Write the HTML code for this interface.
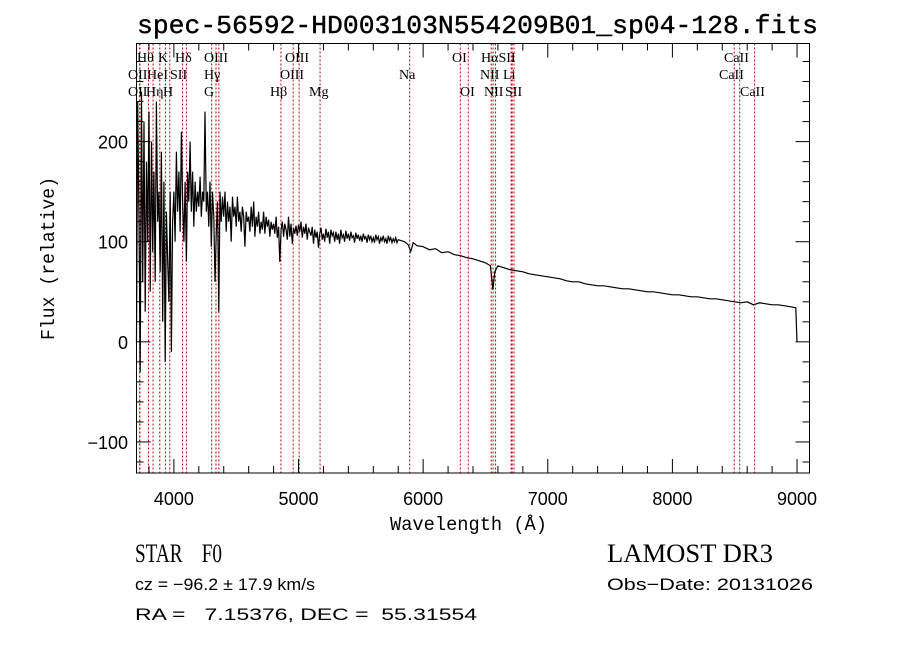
<!DOCTYPE html>
<html><head><meta charset="utf-8"><style>
html,body{margin:0;padding:0;background:#fff;}
svg{display:block;}
text{white-space:pre;}
</style></head><body>
<svg id="chart" width="900" height="649" viewBox="0 0 900 649" xmlns="http://www.w3.org/2000/svg" xml:space="preserve">
<rect width="900" height="649" fill="#fff"/>
<text x="137" y="33" font-family="Liberation Mono, monospace" font-size="26" stroke="#000" stroke-width="0.4" textLength="681" lengthAdjust="spacingAndGlyphs">spec-56592-HD003103N554209B01_sp04-128.fits</text>
<g id="lines"></g>
<g id="labels" font-family="Liberation Serif, serif" font-size="14"></g>
<path id="spec" fill="none" stroke="#000" stroke-width="1.2"/>
<rect x="136.5" y="43.5" width="673" height="429.5" fill="none" stroke="#000" stroke-width="1"/>
<g id="ticks" stroke="#000" stroke-width="1"></g>
<g id="ticklabels" font-family="Liberation Sans, sans-serif" font-size="18"></g>
<text x="390" y="530" font-family="Liberation Mono, monospace" font-size="19" textLength="157" lengthAdjust="spacingAndGlyphs">Wavelength (Å)</text>
<text transform="translate(54,340) rotate(-90)" font-family="Liberation Mono, monospace" font-size="19" textLength="163" lengthAdjust="spacingAndGlyphs">Flux (relative)</text>
<text x="135" y="562" font-family="Liberation Serif, serif" font-size="26" textLength="87" lengthAdjust="spacingAndGlyphs">STAR    F0</text>
<text x="607" y="562" font-family="Liberation Serif, serif" font-size="26" textLength="166" lengthAdjust="spacingAndGlyphs">LAMOST DR3</text>
<text x="135" y="590" font-family="Liberation Sans, sans-serif" font-size="17" textLength="180" lengthAdjust="spacingAndGlyphs">cz = −96.2 ± 17.9 km/s</text>
<text x="607" y="590" font-family="Liberation Sans, sans-serif" font-size="17" textLength="206" lengthAdjust="spacingAndGlyphs">Obs−Date: 20131026</text>
<text x="135" y="620" font-family="Liberation Sans, sans-serif" font-size="17" textLength="342" lengthAdjust="spacingAndGlyphs">RA =   7.15376, DEC =  55.31554</text>
</svg>
<script>
const blueStart = 3700;
const blueStep = 10;
const fluxBlue = [0,240,120,-30,250,60,220,30,180,100,
230,50,200,90,170,60,240,120,150,70,
190,20,160,-20,130,80,40,150,-10,120,
150,100,190,130,170,110,210,140,100,160,
80,170,140,200,130,170,115,160,130,150,
135,165,125,150,140,230,130,150,115,160,
95,150,125,60,110,140,30,150,120,145,
125,150,110,140,120,135,100,145,125,135,
115,145,120,130,110,135,125,95,130,120,
125,110,135,115,140,105,125,115,130,108,
120,112,130,108,125,115,122,105,120,112,
118,108,125,104,115,80,112,120,105,118,
112,102,125,105,118,98,114,108,116,106,
117,110,120,104,115,108,118,102,114,110,
106,115,98,112,104,110,94,108,114,102,
108,100,113,104,110,98,112,106,109,100,
110,102,108,98,112,104,107,100,111,103,
108,101,110,104,106,99,109,103,107,101,
106,100,108,103,105,99,107,102,106,100,
104,99,107,102,105,98,104,101,106,100,
103,98,106,101,104,99,103,100,104,99,
102];
const waveRed = [5850,5880,5900,5920,5950,6000,6050,6100,6150,6200,6250,6300,6350,6400,6450,6500,6540,6560,6575,6600,6650,6700,6750,6800,6850,6900,6950,7000,7050,7100,7150,7200,7250,7300,7350,7400,7450,7500,7550,7600,7650,7700,7750,7800,7850,7900,7950,8000,8050,8100,8150,8200,8250,8300,8350,8400,8450,8500,8550,8600,8650,8700,8750,8800,8850,8900,8950,8990,9000];
const fluxRed = [100,97,90,99,96,95,92,93,89,90,87,86,84,83,81,79,76,52,70,76,74,72,71,70,68,67,66,65,64,63,61,60,60,58,57,56,56,55,54,53,53,52,51,50,50,49,48,47,47,46,45,45,44,43,43,42,41,40,39,40,37,39,38,37,37,36,35,34,0];
const xTicks = [4000,5000,6000,7000,8000,9000];
const yTicks = [-100,0,100,200];
const lineWaves = [3727,3729,3798,3835,3889,3934,3969,4072,4102,4305,4340,4363,4861,4959,5007,5175,5894,6300,6364,6548,6563,6583,6708,6716,6731,8498,8542,8662];
const X0=3700, X1=9100, Y0=-131, Y1=298;
const PX0=136.5, PX1=809.5, PY0=473, PY1=43.5;
function xs(w){return PX0+(w-X0)/(X1-X0)*(PX1-PX0);}
function ys(v){return PY0-(v-Y0)/(Y1-Y0)*(PY0-PY1);}
const NS='http://www.w3.org/2000/svg';
function mk(tag,attrs,parent){const e=document.createElementNS(NS,tag);for(const k in attrs)e.setAttribute(k,attrs[k]);parent.appendChild(e);return e;}
const wv=fluxBlue.map((f,i)=>blueStart+i*blueStep).concat(waveRed), fl=fluxBlue.concat(fluxRed);
let d='';
for(let i=0;i<wv.length;i++){d+=(i?'L':'M')+xs(wv[i]).toFixed(1)+' '+ys(Math.max(Y0,Math.min(Y1,fl[i]))).toFixed(1);}
document.getElementById('spec').setAttribute('d',d);
const lg=document.getElementById('lines');
lineWaves.forEach(w=>{
  const l=mk('line',{x1:xs(w-2),x2:xs(w-2),y1:PY1,y2:PY0,stroke:'#c00000','stroke-width':1,'stroke-dasharray':'2,2'},lg);
  
  
});
const labs=[["Hθ",137,62],["K",158,62],["Hδ",175,62],["OIII",204,62],["OIII",285,62],["OI",452,62],["HαSII",481,62],["CaII",724,62],
["OII",128,79],["HeI",147,79],["SII",170,79],["Hγ",204,79],["OIII",280,79],["Na",399,79],["NII",480,79],["Li",503,79],["CaII",719,79],
["OII",128,96],["Hη",146,96],["H",163,96],["G",204,96],["Hβ",270,96],["Mg",309,96],["OI",460,96],["NII",484,96],["SII",505,96],["CaII",740,96]];
const lb=document.getElementById('labels');
labs.forEach(a=>{
  const t=mk('text',{x:a[1],y:a[2]},lb);t.textContent=a[0];
  
  
});
const tg=document.getElementById('ticks'), tl=document.getElementById('ticklabels');
for(let w=3800;w<=9000;w+=200){
  const major=(w%1000===0), L=major?14:7, x=xs(w);
  mk('line',{x1:x,x2:x,y1:PY0,y2:PY0-L},tg);
  mk('line',{x1:x,x2:x,y1:PY1,y2:PY1+L},tg);
}
xTicks.forEach(w=>{
  const t=mk('text',{x:xs(w),y:505,'text-anchor':'middle'},tl);t.textContent=w;
  
  
});
for(let v=-120;v<=280;v+=20){
  const major=(v%100===0), L=major?14:7, y=ys(v);
  mk('line',{x1:PX0,x2:PX0+L,y1:y,y2:y},tg);
  mk('line',{x1:PX1,x2:PX1-L,y1:y,y2:y},tg);
}
yTicks.forEach(v=>{
  const t=mk('text',{x:128,y:ys(v)+7,'text-anchor':'end'},tl);t.textContent=v<0?'−'+(-v):v;
  
  
});
</script>
</body></html>
